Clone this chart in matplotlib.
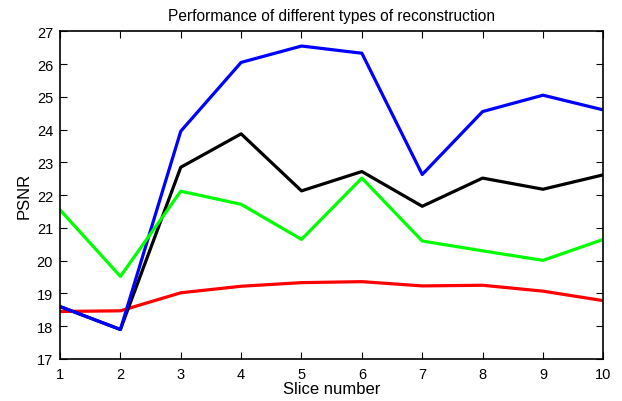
import matplotlib
matplotlib.use("Agg")
import matplotlib.pyplot as plt

plt.rcParams["font.family"] = ["Liberation Sans", "DejaVu Sans"]

slices = [1, 2, 3, 4, 5, 6, 7, 8, 9, 10]
psnr_red = [18.45, 18.47, 19.02, 19.22, 19.33, 19.36, 19.23, 19.25, 19.07, 18.78]
psnr_black = [18.6, 17.9, 22.85, 23.87, 22.13, 22.72, 21.66, 22.52, 22.18, 22.62]
psnr_blue = [18.6, 17.9, 23.95, 26.05, 26.55, 26.33, 22.63, 24.55, 25.05, 24.6]
psnr_green = [21.55, 19.52, 22.12, 21.72, 20.65, 22.52, 20.6, 20.3, 20.01, 20.65]

fig = plt.figure(figsize=(6.22, 4.02), dpi=100)
ax = fig.add_axes([0.0965, 0.1045, 0.8735, 0.8152])

lw = 2.3
ax.plot(slices, psnr_red, color="#ff0000", lw=lw)
ax.plot(slices, psnr_black, color="black", lw=lw)
ax.plot(slices, psnr_blue, color="#0000ff", lw=lw)
ax.plot(slices, psnr_green, color="#00ff00", lw=lw)

ax.set_xlim(1, 10)
ax.set_ylim(17, 27)
ax.set_xticks(slices)
ax.set_yticks(range(17, 28))
ax.tick_params(direction="in", top=True, right=True, labelsize=10.5, length=5, width=0.8)
ax.tick_params(axis="x", pad=6)
ax.tick_params(axis="y", pad=5)
for s in ax.spines.values():
    s.set_linewidth(1.2)

ax.set_xlabel("Slice number", fontsize=12, labelpad=0)
ax.set_ylabel("PSNR", fontsize=12, labelpad=4)
ax.set_title("Performance of different types of reconstruction", fontsize=11.2, pad=8)

fig.savefig("out.png", dpi=100)
